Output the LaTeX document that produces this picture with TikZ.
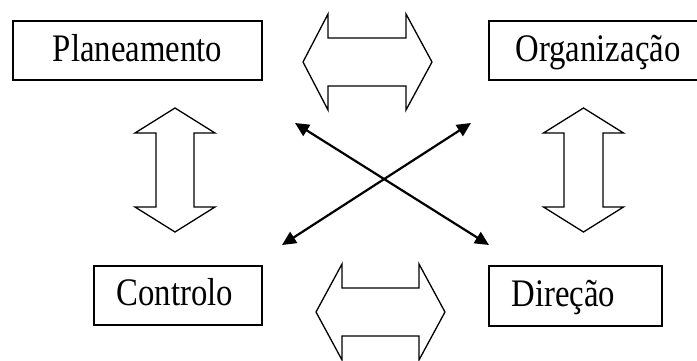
\documentclass[tikz,border=0pt]{standalone}
\usepackage{fontspec}
\setmainfont{Liberation Serif}[FakeStretch=0.84]
\usetikzlibrary{arrows.meta}
\tikzset{
  box/.style={draw, line width=1.7pt, inner sep=0pt},
  lbl/.style={anchor=base, inner sep=0pt, font=\fontsize{39}{39}\selectfont},
  blockarrow/.style={draw, line width=1.3pt, line join=miter, fill=white},
  link/.style={line width=2.2pt, {Triangle[length=14pt,width=13pt]}-{Triangle[length=14pt,width=13pt]}}
}
\begin{document}
\begin{tikzpicture}[x=1pt, y=-1pt]
  \useasboundingbox (0,0) rectangle (697,361);
  \clip (0,0) rectangle (697,361);

  % the four boxes
  \node[box, minimum width=249pt, minimum height=59pt] (plan) at (137.5,50.5) {};
  \node[box, minimum width=213pt, minimum height=59pt] (org)  at (595.5,50.5) {};
  \node[box, minimum width=168pt, minimum height=59pt] (ctrl) at (178,295.5) {};
  \node[box, minimum width=173pt, minimum height=60pt] (dir)  at (575.5,296) {};

  \node[lbl] (planT) at (137.5,62)  {Planeamento};
  \node[lbl] (orgT)  at (598,62)    {Organização};
  \node[lbl] (ctrlT) at (175,305)   {Controlo};
  \node[lbl] (dirT)  at (563.5,306) {Direção};

  % horizontal double arrow between the top boxes
  \draw[blockarrow] (303,62) -- (328,14) -- (328,38) -- (406,38) -- (406,14)
    -- (432,62) -- (406,110) -- (406,86) -- (328,86) -- (328,110) -- cycle;
  % horizontal double arrow between the bottom boxes
  \draw[blockarrow] (316,312) -- (342,264) -- (342,288) -- (419,288) -- (419,264)
    -- (445,312) -- (419,360) -- (419,336) -- (342,336) -- (342,360) -- cycle;
  % vertical double arrow on the left
  \draw[blockarrow] (175,108) -- (215,133) -- (194,133) -- (194,207) -- (215,207)
    -- (175,232) -- (135,207) -- (156,207) -- (156,133) -- (135,133) -- cycle;
  % vertical double arrow on the right
  \draw[blockarrow] (583.5,108) -- (623.5,133) -- (603,133) -- (603,207) -- (623.5,207)
    -- (583.5,232) -- (543.5,207) -- (564,207) -- (564,133) -- (543.5,133) -- cycle;

  % crossing diagonals
  \coordinate (tl) at (295,123);
  \coordinate (tr) at (471,123);
  \coordinate (bl) at (282,245);
  \coordinate (br) at (489,245);
  \draw[link] (tl) -- (br);
  \draw[link] (tr) -- (bl);
\end{tikzpicture}
\end{document}
